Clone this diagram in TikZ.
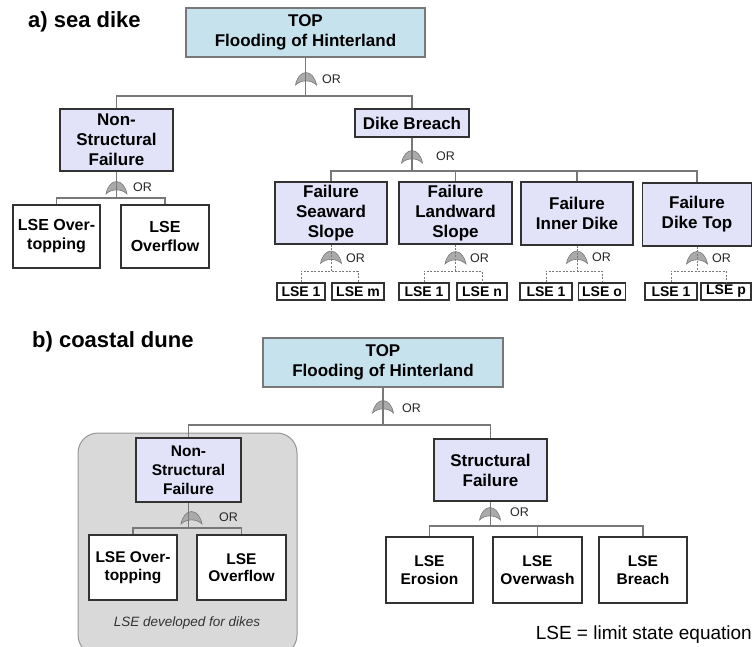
\documentclass[tikz,border=0pt]{standalone}
\usepackage{fontspec}
\setmainfont{Liberation Sans}
\definecolor{topblue}{RGB}{198,227,237}
\definecolor{topedge}{RGB}{120,120,120}
\definecolor{lav}{RGB}{226,226,248}
\definecolor{boxedge}{RGB}{50,50,50}
\definecolor{conngray}{RGB}{120,120,120}
\definecolor{gatefill}{RGB}{170,170,170}
\definecolor{gateedge}{RGB}{120,120,120}
\definecolor{panelfill}{RGB}{217,217,217}
\definecolor{paneledge}{RGB}{150,150,150}
\begin{document}
\begin{tikzpicture}[x=1pt,y=-1pt,
  box/.style={draw, align=center, inner sep=0pt, text=black, font=\bfseries\fontsize{17}{20}\selectfont},
  topbox/.style={box, fill=topblue, draw=topedge, line width=1.2pt},
  evbox/.style={box, fill=lav, draw=boxedge, line width=1.6pt},
  lsebox/.style={box, fill=white, draw=boxedge, line width=1.6pt},
  lseA/.style={lsebox, font=\bfseries\fontsize{16}{19}\selectfont},
  lseB/.style={lsebox, font=\bfseries\fontsize{15.5}{17.5}\selectfont},
  lsesmall/.style={lsebox, font=\bfseries\fontsize{14}{16}\selectfont, line width=1.4pt},
  conn/.style={draw=conngray, line width=1.3pt},
  dconn/.style={draw=conngray, line width=1pt, dash pattern=on 2pt off 1.5pt},
  orlbl/.style={font=\fontsize{12.5}{13}\selectfont, anchor=west, inner sep=0pt, text=black!85},
  title/.style={font=\bfseries\fontsize{22}{24}\selectfont, anchor=west, inner sep=0pt},
  orgate/.pic={\path[fill=gatefill, draw=gateedge, line width=0.6pt]
     (-10.5,6) .. controls (-9,-2) and (-4.5,-6.5) .. (0,-6.5)
     .. controls (4.5,-6.5) and (9,-2) .. (10.5,6)
     .. controls (5,0.5) and (-5,0.5) .. (-10.5,6) -- cycle;}
]
\useasboundingbox (0,0) rectangle (753,646);
\clip (0,0) rectangle (753,646);

% ---------------- a) sea dike ----------------
\node[title] (ta) at (28,22) {a) sea dike};

\node[topbox, minimum width=239pt, minimum height=49pt] (topA) at (305.5,32.5) {TOP\\Flooding of Hinterland};
\node[evbox, minimum width=113pt, minimum height=62pt] (nsA) at (116.5,140) {Non-\\Structural\\Failure};
\node[evbox, minimum width=114pt, minimum height=28pt] (dbA) at (412,123) {Dike Breach};
\node[lseA, minimum width=87pt, minimum height=63pt] (ovtA) at (56.5,236.5) {LSE Over-\\topping};
\node[lseA, minimum width=88pt, minimum height=63pt] (ovfA) at (165,236.5) {LSE\\Overflow};

\node[evbox, minimum width=112pt, minimum height=62pt] (swA) at (331,213) {Failure\\Seaward\\Slope};
\node[evbox, minimum width=113pt, minimum height=62pt] (lwA) at (455.5,213) {Failure\\Landward\\Slope};
\node[evbox, minimum width=112pt, minimum height=63pt] (idA) at (577,213.5) {Failure\\Inner Dike};
\node[evbox, minimum width=109pt, minimum height=63pt] (dtA) at (697,214.5) {Failure\\Dike Top};

\node[lsesmall, minimum width=48pt, minimum height=17pt] (s1) at (301,291.5) {LSE 1};
\node[lsesmall, minimum width=52pt, minimum height=17pt] (sm) at (358,291.5) {LSE m};
\node[lsesmall, minimum width=50pt, minimum height=17pt] (l1) at (424,291.5) {LSE 1};
\node[lsesmall, minimum width=50pt, minimum height=17pt] (ln) at (482,291.5) {LSE n};
\node[lsesmall, minimum width=52pt, minimum height=17pt] (i1) at (546,291.5) {LSE 1};
\node[lsesmall, minimum width=47pt, minimum height=17pt] (io) at (602,291.5) {LSE o};
\node[lsesmall, minimum width=52pt, minimum height=17pt] (p1) at (671,291.5) {LSE 1};
\node[lsesmall, minimum width=50pt, minimum height=17pt] (pp) at (726,291.5) {LSE p};

% gates a
\pic at (306,79) {orgate};
\node[orlbl] (orA1) at (322,79) {OR};
\pic at (116.5,188) {orgate};
\node[orlbl] (orA2) at (133,187) {OR};
\pic at (412,157) {orgate};
\node[orlbl] (orA3) at (436,156) {OR};
\pic at (331,257.5) {orgate};
\node[orlbl] (orA4) at (346,258) {OR};
\pic at (455.5,258) {orgate};
\node[orlbl] (orA5) at (470,258.5) {OR};
\pic at (577,257.5) {orgate};
\node[orlbl] (orA6) at (592,257) {OR};
\pic at (697,258) {orgate};
\node[orlbl] (orA7) at (712,258.5) {OR};

\coordinate (barA) at (0,96);
\coordinate (barNA) at (0,198);
\coordinate (barDA) at (0,171);
\coordinate (barS) at (0,271);

\draw[conn] (topA.south) -- (topA.south |- barA);
\draw[conn] (nsA.north) -- (nsA.north |- barA) -- (dbA.north |- barA) -- (dbA.north);
\draw[conn] (nsA.south) -- (nsA.south |- barNA);
\draw[conn] (ovtA.north) -- (ovtA.north |- barNA) -- (ovfA.north |- barNA) -- (ovfA.north);
\draw[conn] (dbA.south) -- (dbA.south |- barDA);
\draw[conn] (swA.north) -- (swA.north |- barDA) -- (dtA.north |- barDA) -- (dtA.north);
\draw[conn] (lwA.north) -- (lwA.north |- barDA);
\draw[conn] (idA.north) -- (idA.north |- barDA);

\draw[dconn] (swA.south) -- (swA.south |- barS);
\draw[dconn] (s1.north) -- (s1.north |- barS) -- (sm.north |- barS) -- (sm.north);
\draw[dconn] (lwA.south) -- (lwA.south |- barS);
\draw[dconn] (l1.north) -- (l1.north |- barS) -- (ln.north |- barS) -- (ln.north);
\draw[dconn] (idA.south) -- (idA.south |- barS);
\draw[dconn] (i1.north) -- (i1.north |- barS) -- (io.north |- barS) -- (io.north);
\draw[dconn] (dtA.south) -- (dtA.south |- barS);
\draw[dconn] (p1.north) -- (p1.north |- barS) -- (pp.north |- barS) -- (pp.north);

% ---------------- b) coastal dune ----------------
\node[title] (tb) at (32,342) {b) coastal dune};

\path[fill=panelfill, draw=paneledge, line width=1pt, rounded corners=20pt] (78,433) rectangle (297,655);
\node[font=\itshape\fontsize{13.5}{15}\selectfont, text=black!80, inner sep=0pt] (dev) at (187,623) {LSE developed for dikes};

\node[topbox, minimum width=240pt, minimum height=49pt] (topB) at (383,362.5) {TOP\\Flooding of Hinterland};
\node[evbox, minimum width=105pt, minimum height=64pt, font=\bfseries\fontsize{15.5}{19}\selectfont] (nsB) at (188.5,470) {Non-\\Structural\\Failure};
\node[evbox, minimum width=113pt, minimum height=62pt] (sfB) at (490.5,470) {Structural\\Failure};
\node[lseB, minimum width=88pt, minimum height=65pt] (ovtB) at (133,567.5) {LSE Over-\\topping};
\node[lseB, minimum width=89pt, minimum height=65pt] (ovfB) at (241.5,567.5) {LSE\\Overflow};
\node[lseB, minimum width=87pt, minimum height=66pt] (erB) at (429.5,570) {LSE\\Erosion};
\node[lseB, minimum width=89pt, minimum height=66pt] (owB) at (537.5,570) {LSE\\Overwash};
\node[lseB, minimum width=88pt, minimum height=66pt] (brB) at (643,570) {LSE\\Breach};

\pic at (383,407) {orgate};
\node[orlbl] (orB1) at (402,408) {OR};
\pic at (191.5,518) {orgate};
\node[orlbl] (orB2) at (219,517) {OR};
\pic at (490,514) {orgate};
\node[orlbl] (orB3) at (510,512) {OR};

\coordinate (barB) at (0,425);
\coordinate (barNB) at (0,528);
\coordinate (barSB) at (0,526);

\draw[conn] (topB.south) -- (topB.south |- barB);
\draw[conn] (nsB.north) -- (nsB.north |- barB) -- (sfB.north |- barB) -- (sfB.north);
\draw[conn] (nsB.south) -- (nsB.south |- barNB);
\draw[conn] (ovtB.north) -- (ovtB.north |- barNB) -- (ovfB.north |- barNB) -- (ovfB.north);
\draw[conn] (sfB.south) -- (sfB.south |- barSB);
\draw[conn] (erB.north) -- (erB.north |- barSB) -- (brB.north |- barSB) -- (brB.north);
\draw[conn] (owB.north) -- (owB.north |- barSB);

\node[font=\fontsize{19}{21}\selectfont, anchor=east, inner sep=0pt] (legend) at (752,635) {LSE = limit state equation};
\end{tikzpicture}
\end{document}
